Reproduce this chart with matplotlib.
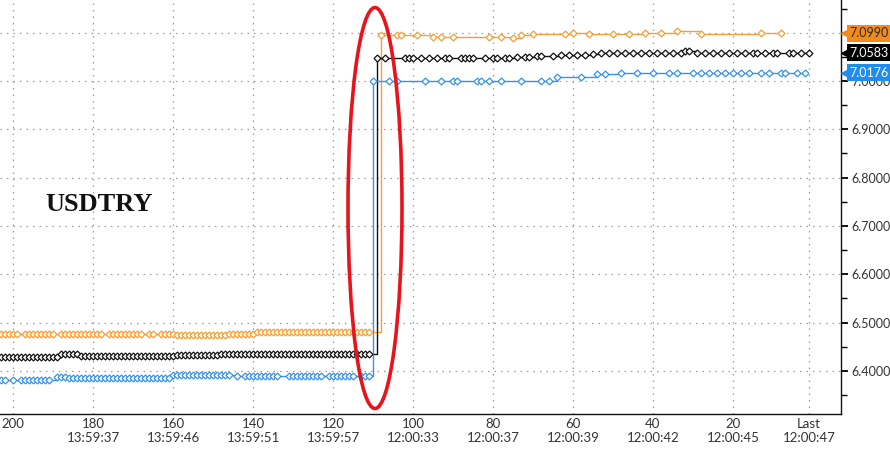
import matplotlib
matplotlib.use("Agg")
import matplotlib.pyplot as plt
from matplotlib.patches import Ellipse
from matplotlib.transforms import blended_transform_factory

# ---------------- data (x = ticks ago, y = USDTRY) ----------------
orange_pre_x = [203, 202, 201, 200, 199, 197, 196, 195, 194, 193, 192, 191, 190, 188, 187, 186,
                185, 184, 183, 182, 181, 180, 179, 178, 176, 175, 174, 173, 172, 171, 170, 169,
                168, 166, 165, 163, 162, 161, 160, 159, 158, 157, 156, 155, 154, 153, 152, 151,
                150, 149, 148, 147, 146, 145, 144, 143, 142, 141, 140, 139, 138, 137, 136, 135,
                134, 133, 132, 131, 130, 129, 128, 127, 126, 125, 124, 123, 122, 121, 120, 119,
                118, 117, 116, 115, 114, 113, 112, 111]
orange_pre_y = [6.4765, 6.4765, 6.4765, 6.4765, 6.4765, 6.4765, 6.4765, 6.4765, 6.4765, 6.4765,
                6.4765, 6.4765, 6.4765, 6.4765, 6.4765, 6.4765, 6.4765, 6.4765, 6.4765, 6.4765,
                6.4765, 6.4765, 6.4765, 6.4765, 6.4765, 6.4765, 6.4765, 6.4765, 6.4765, 6.4765,
                6.4765, 6.4765, 6.4765, 6.4765, 6.4765, 6.4765, 6.4765, 6.4765, 6.4765,
                6.4735, 6.4735, 6.4735, 6.4735, 6.4735, 6.4735, 6.4735, 6.4735, 6.4735, 6.4735,
                6.4735, 6.4735, 6.4735,
                6.4770, 6.4770, 6.4770, 6.4770, 6.4770, 6.4770, 6.4770,
                6.4800, 6.4800, 6.4800, 6.4800, 6.4800, 6.4800, 6.4800, 6.4800, 6.4800, 6.4800,
                6.4800, 6.4800, 6.4800, 6.4800, 6.4800, 6.4800, 6.4800, 6.4800, 6.4800, 6.4800,
                6.4800, 6.4800, 6.4800, 6.4800, 6.4800, 6.4800, 6.4800, 6.4800, 6.4800]
orange_post_x = [108, 104, 103, 99, 95, 93, 90, 81, 78, 75, 73, 70, 62, 60, 56, 50, 46, 42, 38,
                 34, 28, 13, 8]
orange_post_y = [7.095, 7.095, 7.095, 7.095, 7.091, 7.091, 7.092, 7.092, 7.091, 7.089, 7.095,
                 7.097, 7.097, 7.099, 7.098, 7.097, 7.097, 7.099, 7.099, 7.104, 7.097, 7.099,
                 7.0990]

black_pre_x = [203, 202, 201, 200, 199, 198, 197, 196, 195, 194, 193, 192, 191, 190, 189, 188,
               187, 186, 185, 184, 183, 182, 181, 180, 179, 178, 177, 176, 175, 174, 173, 172,
               171, 170, 169, 168, 167, 166, 165, 164, 163, 162, 161, 160, 159, 158, 157, 156,
               155, 154, 153, 152, 151, 150, 149, 148, 147, 146, 145, 144, 143, 142, 141, 140,
               139, 138, 137, 136, 135, 134, 133, 132, 131, 130, 129, 128, 127, 126, 125, 124,
               123, 122, 121, 120, 119, 118, 117, 116, 115, 114, 113, 112, 111]
black_pre_y = [6.429, 6.429, 6.429, 6.429, 6.429, 6.429, 6.429, 6.429, 6.429, 6.429, 6.429,
               6.429, 6.429, 6.429, 6.429,
               6.434, 6.434, 6.434, 6.434, 6.434,
               6.431, 6.431, 6.431, 6.431, 6.431, 6.431, 6.431, 6.431, 6.431, 6.431, 6.431,
               6.431, 6.431, 6.431, 6.431, 6.431, 6.431, 6.431, 6.431, 6.431, 6.431, 6.431,
               6.431, 6.431,
               6.4335, 6.4335, 6.4335, 6.4335, 6.4335, 6.4335, 6.4335, 6.4335, 6.4335, 6.4335,
               6.4335,
               6.435, 6.435, 6.435, 6.435, 6.435, 6.435, 6.435, 6.435, 6.435, 6.435, 6.435,
               6.435, 6.435, 6.435, 6.435, 6.435, 6.435, 6.435, 6.435, 6.435, 6.435, 6.435,
               6.435, 6.435, 6.435, 6.435, 6.435, 6.435, 6.435, 6.435, 6.435, 6.435, 6.435,
               6.435, 6.435, 6.435, 6.435, 6.435]
black_post_x = [109, 107, 102, 101, 100, 98, 96, 94, 92, 91, 88, 87, 86, 85, 82, 80, 79, 77, 76,
                74, 72, 71, 69, 68, 65, 63, 61, 59, 57, 55, 53, 51, 49, 47, 45, 43, 41, 39, 37,
                35, 33, 32, 31, 29, 27, 25, 23, 21, 19, 17, 15, 14, 12, 10, 9, 6, 5, 3, 1]
black_post_y = [7.047, 7.047, 7.047, 7.047, 7.047, 7.047, 7.047, 7.047, 7.047, 7.047, 7.047,
                7.047, 7.047, 7.047,
                7.048, 7.048, 7.048, 7.048, 7.048,
                7.049, 7.049, 7.049,
                7.051, 7.051, 7.051,
                7.054, 7.054, 7.054, 7.054,
                7.055,
                7.057, 7.057, 7.057, 7.057, 7.057, 7.057, 7.057, 7.057, 7.057, 7.057,
                7.058, 7.062, 7.063,
                7.0583, 7.0583, 7.0583, 7.0583, 7.0583, 7.0583, 7.0583, 7.0583, 7.0583, 7.0583,
                7.0583, 7.0583, 7.0583, 7.0583, 7.0583, 7.0583]

blue_pre_x = [203, 202, 200, 198, 197, 196, 195, 194, 193, 192, 191, 189, 188, 187, 186, 185,
              184, 183, 182, 181, 180, 179, 178, 177, 176, 175, 174, 173, 172, 171, 170, 169,
              168, 167, 166, 165, 164, 163, 162, 161, 160, 159, 158, 157, 156, 155, 154, 153,
              152, 151, 150, 149, 148, 147, 146, 144, 142, 141, 140, 139, 138, 137, 136, 135,
              134, 131, 130, 129, 128, 127, 126, 125, 124, 123, 121, 120, 119, 118, 117, 116,
              115, 113, 112, 111]
blue_pre_y = [6.381, 6.381, 6.381, 6.381, 6.381, 6.381, 6.381, 6.381, 6.381, 6.381, 6.381,
              6.3865, 6.3865, 6.3865,
              6.3845, 6.3845, 6.3845, 6.3845, 6.3845, 6.3845, 6.3845, 6.3845, 6.3845, 6.3845,
              6.3845, 6.3845, 6.3845, 6.3845, 6.3845, 6.3845, 6.3845, 6.3845, 6.3845, 6.3845,
              6.3845, 6.3845, 6.3845, 6.3845, 6.3845, 6.3845,
              6.391, 6.391, 6.391, 6.391, 6.391, 6.391, 6.391, 6.391, 6.391, 6.391, 6.391,
              6.391, 6.391, 6.391, 6.391,
              6.389, 6.389, 6.389, 6.389, 6.389, 6.389, 6.389, 6.389, 6.389, 6.389, 6.389,
              6.389, 6.389, 6.389, 6.389, 6.389, 6.389, 6.389, 6.389, 6.389, 6.389, 6.389,
              6.389, 6.389, 6.389, 6.389, 6.389, 6.389, 6.389]
blue_post_x = [110, 106, 104, 97, 93, 90, 89, 84, 83, 81, 78, 73, 68, 66, 64, 58, 54, 52, 48,
               44, 40, 36, 34, 30, 28, 26, 24, 22, 20, 18, 16, 13, 11, 8, 7, 4, 2]
blue_post_y = [6.999, 6.999, 6.999, 6.999, 6.999, 6.999, 6.999, 6.999, 6.999, 6.999, 6.999,
               6.999, 6.999, 6.999,
               7.0077, 7.0077, 7.0138, 7.0138, 7.0170,
               7.0176, 7.0176, 7.0176, 7.0176, 7.0176, 7.0176, 7.0176, 7.0176, 7.0176, 7.0176,
               7.0176, 7.0176, 7.0176, 7.0176, 7.0176, 7.0176, 7.0176, 7.0176]

last_values = [7.0990, 7.0583, 7.0176]
x_tick_pos = [200, 180, 160, 140, 120, 100, 80, 60, 40, 20, 1]
x_tick_labels = ["200", "180\n13:59:37", "160\n13:59:46", "140\n13:59:51", "120\n13:59:57",
                 "100\n12:00:33", "80\n12:00:37", "60\n12:00:39", "40\n12:00:42",
                 "20\n12:00:45", "Last\n12:00:47"]
y_ticks = [6.4, 6.5, 6.6, 6.7, 6.8, 6.9, 7.0, 7.1]
y_minor = [6.35, 6.45, 6.55, 6.65, 6.75, 6.85, 6.95, 7.05, 7.15]
title_text = "USDTRY"

# ---------------- styling ----------------
C_ORANGE = "#f2a03a"
C_BLACK = "#111111"
C_BLUE = "#3a92e6"
TAG_ORANGE = "#f38a1c"
TAG_BLUE = "#1f8df0"
plt.rcParams["font.family"] = ["Lato", "DejaVu Sans"]

fig = plt.figure(figsize=(8.9, 4.53), dpi=100)
ax = fig.add_axes([0.0, 1 - 414 / 453, 841 / 890, 414 / 453])
ax.set_xlim(203.25, -7)
ax.set_ylim(6.3106, 7.1677)

series = [
    (orange_pre_x + orange_post_x, orange_pre_y + orange_post_y, C_ORANGE),
    (black_pre_x + black_post_x, black_pre_y + black_post_y, C_BLACK),
    (blue_pre_x + blue_post_x, blue_pre_y + blue_post_y, C_BLUE),
]
for xs, ys, c in series:
    ax.plot(xs, ys, drawstyle="steps-post", color=c, lw=1.0, zorder=3)
    ax.plot(xs, ys, linestyle="none", marker="D", ms=3.5, mfc="white", mec=c, mew=0.9,
            zorder=4)

# grid
ax.set_xticks(x_tick_pos)
ax.set_xticklabels(x_tick_labels)
ax.set_yticks(y_ticks)
ax.set_yticklabels([f"{v:.4f}" for v in y_ticks])
ax.set_yticks(y_minor, minor=True)
ax.grid(True, which="major", color="#9a9a9a", linestyle=(0, (1.2, 4)), lw=0.9)

ax.yaxis.tick_right()
ax.tick_params(axis="y", which="major", direction="out", length=5, width=1.3,
               labelsize=9, labelcolor="#333333", pad=2.5)
ax.tick_params(axis="y", which="minor", direction="out", length=4, width=1.0)
ax.tick_params(axis="x", which="major", length=0, labelsize=9.5, labelcolor="#333333", pad=3)

for s in ["left", "top"]:
    ax.spines[s].set_visible(False)
ax.spines["right"].set_color("#111111")
ax.spines["bottom"].set_color("#111111")
ax.spines["right"].set_linewidth(1.0)
ax.spines["bottom"].set_linewidth(1.0)

# last-value tags
trans = blended_transform_factory(ax.transAxes, ax.transData)
tags = [(last_values[0], TAG_ORANGE, "#2a2a2a"),
        (last_values[1], "#000000", "white"),
        (last_values[2], TAG_BLUE, "white")]
for v, bg, fg in tags:
    ax.plot([1.0065], [v], marker="<", ms=7.5, color=bg, transform=trans, clip_on=False,
            zorder=10)
    ax.text(1.0105, v, f"{v:.4f}", transform=trans, ha="left", va="center", fontsize=9,
            color=fg, zorder=11, clip_on=False,
            bbox=dict(boxstyle="square,pad=0.2", fc=bg, ec="none"))

# annotations
ax.text(0.118, 0.507, title_text, transform=ax.transAxes, ha="center", va="center",
        fontsize=19, fontweight="bold", family=["Liberation Serif", "DejaVu Serif"],
        color="#111111")
ax.add_patch(Ellipse((109.5, 6.737), width=13.5, height=0.83, fill=False, ec="#e8141c",
                     lw=2.6, zorder=6, clip_on=False))

fig.savefig("out.png", dpi=100)
